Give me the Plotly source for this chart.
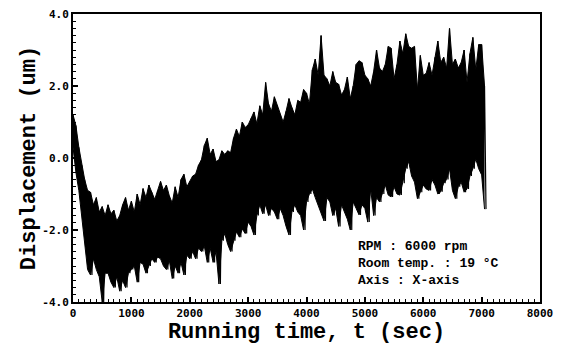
import plotly.graph_objects as go

# Sample times (sec) at which the envelope was read
t_read = list(range(0, 7100, 50))

# Upper envelope of the displacement signal (um)
upper = [1.2, 0.9, 0.3, -0.2, -0.6, -0.9, -0.95, -1.3, -1.1, -1.5,
         -1.35, -1.6, -1.3, -1.55, -1.45, -1.75, -1.6, -1.3, -1.1, -1.45,
         -1.2, -1.5, -1.0, -1.3, -0.85, -1.1, -0.75, -0.95, -1.15, -0.9,
         -0.65, -0.9, -0.75, -1.05, -1.25, -0.8, -1.1, -0.6, -0.45, -0.8,
         -0.65, -0.5, -0.45, -0.2, -0.05, 0.35, 0.55, 0.1, 0.25, -0.1,
         -0.05, 0.2, 0.1, 0.2, 0.15, 0.55, 0.8, 0.6, 1.0, 0.85,
         0.92, 1.1, 1.28, 0.95, 1.45, 1.2, 2.1, 1.5, 1.3, 1.7,
         1.45, 1.2, 1.0, 1.3, 1.65, 1.4, 1.2, 1.6, 1.55, 1.9,
         1.8, 1.5, 2.45, 2.75, 2.3, 3.4, 2.3, 2.2, 2.0, 2.4,
         2.1, 2.05, 1.75, 1.9, 2.25, 1.65, 2.0, 2.6, 2.7, 2.65,
         2.3, 2.2, 2.0, 2.4, 3.0, 2.5, 2.4, 2.6, 3.1, 3.05,
         2.2, 2.6, 3.25, 2.9, 3.45, 3.1, 3.05, 3.1, 1.9, 2.85,
         2.3, 2.35, 2.65, 2.3, 2.8, 3.25, 2.65, 2.8, 2.5, 3.6,
         2.6, 2.75, 2.5, 2.65, 3.0, 2.1, 2.9, 3.35, 2.45, 3.15,
         3.15, 2.0]

# Lower envelope of the displacement signal (um)
lower = [0.3, -0.4, -0.9, -1.6, -2.4, -3.1, -3.25, -2.8, -3.1, -3.3,
         -4.0, -3.2, -3.2, -3.45, -3.6, -3.3, -3.7, -3.4, -3.6, -3.2,
         -3.1, -3.0, -3.45, -2.9, -2.95, -3.2, -3.0, -2.8, -2.9, -2.75,
         -2.8, -3.0, -3.1, -2.85, -3.35, -3.0, -3.2, -2.9, -3.25, -2.7,
         -2.8, -2.6, -2.8, -2.5, -2.6, -2.45, -2.9, -2.5, -2.9, -2.6,
         -3.5, -2.3, -2.1, -2.4, -2.6, -2.3, -2.05, -2.2, -1.97, -2.1,
         -1.78, -1.9, -2.14, -1.6, -1.3, -1.55, -1.3, -1.6, -1.4, -1.5,
         -1.7, -1.4, -1.6, -1.9, -2.14, -1.5, -1.3, -1.5, -1.6, -2.0,
         -1.22, -1.0, -0.86, -1.1, -1.3, -1.5, -1.75, -1.1, -1.22, -1.6,
         -1.4, -1.9, -1.3, -1.5, -1.7, -2.0, -1.22, -1.4, -1.58, -1.3,
         -1.4, -1.78, -0.86, -1.6, -1.1, -1.22, -1.0, -0.75, -1.03, -1.08,
         -0.8, -1.0, -1.03, -0.7, -0.3, -0.1, -0.5, -0.67, -1.13, -0.95,
         -0.75, -0.86, -0.9, -0.6, -0.75, -1.0, -0.94, -0.7, -0.6, -0.3,
         -0.9, -1.13, -0.8, -0.67, -0.95, -0.86, -0.5, -0.3, -0.03, -0.3,
         -0.47, -1.42]

x_ticks = [0, 1000, 2000, 3000, 4000, 5000, 6000, 7000, 8000]
x_tick_labels = ["0", "1000", "2000", "3000", "4000", "5000", "6000", "7000", "8000"]
y_ticks = [-4, -2, 0, 2, 4]
y_tick_labels = ["-4.0", "-2.0", "0.0", "2.0", "4.0"]

info_lines = ["RPM : 6000 rpm", "Room temp. : 19 °C", "Axis : X-axis"]

# Signal trace: alternating peaks and troughs as read (peak at t, trough half a step later)
t_sig = []
y_sig = []
for i, t in enumerate(t_read):
    t_sig.append(t)
    y_sig.append(upper[i])
    t_sig.append(t + 25)
    y_sig.append(lower[i])

fig = go.Figure()
fig.add_trace(go.Scatter(x=t_read, y=lower, mode="lines",
                         line=dict(color="black", width=1),
                         showlegend=False, hoverinfo="skip"))
fig.add_trace(go.Scatter(x=t_read, y=upper, mode="lines", fill="tonexty",
                         fillcolor="black", line=dict(color="black", width=1),
                         showlegend=False, hoverinfo="skip"))
fig.add_trace(go.Scatter(x=t_sig, y=y_sig, mode="lines",
                         line=dict(color="black", width=1.2),
                         showlegend=False, hoverinfo="skip"))

tick_font = dict(family="DejaVu Sans Mono", size=11, color="black", weight="bold")
title_font = dict(family="Liberation Mono", size=22, color="black", weight="bold")

# the page adds an 8px body margin, so margins are reduced by that amount
fig.update_layout(
    width=569, height=345,
    margin=dict(l=65, r=37, t=6, b=51),
    paper_bgcolor="white", plot_bgcolor="white",
    xaxis=dict(range=[0, 8000], tickvals=x_ticks, ticktext=x_tick_labels,
               automargin=False, ticklabeloverflow="allow",
               showgrid=False, zeroline=False, showline=True, linecolor="black",
               linewidth=2, mirror=True, ticks="inside", ticklen=5, tickwidth=1.5,
               tickcolor="black", tickfont=tick_font,
               minor=dict(dtick=100, ticks="inside", ticklen=3, tickwidth=1, tickcolor="black"),
               title=dict(text="Running time, t (sec)", font=title_font, standoff=0)),
    yaxis=dict(range=[-4, 4], tickvals=y_ticks, ticktext=y_tick_labels,
               automargin=False, ticklabeloverflow="allow",
               showgrid=False, zeroline=False, showline=True, linecolor="black",
               linewidth=2, mirror=True, ticks="inside", ticklen=5, tickwidth=1.5,
               tickcolor="black", tickfont=tick_font,
               minor=dict(dtick=0.2, ticks="inside", ticklen=3, tickwidth=1, tickcolor="black"),
               title=dict(text="Displacement (um)", font=title_font, standoff=0)),
)

fig.add_annotation(xref="paper", yref="paper", x=0.605, y=0.225, xanchor="left", yanchor="top",
                   text="<br>".join(info_lines), showarrow=False, align="left",
                   font=dict(family="Liberation Mono", size=13, color="black", weight="bold"))

fig.write_html("out.html")
